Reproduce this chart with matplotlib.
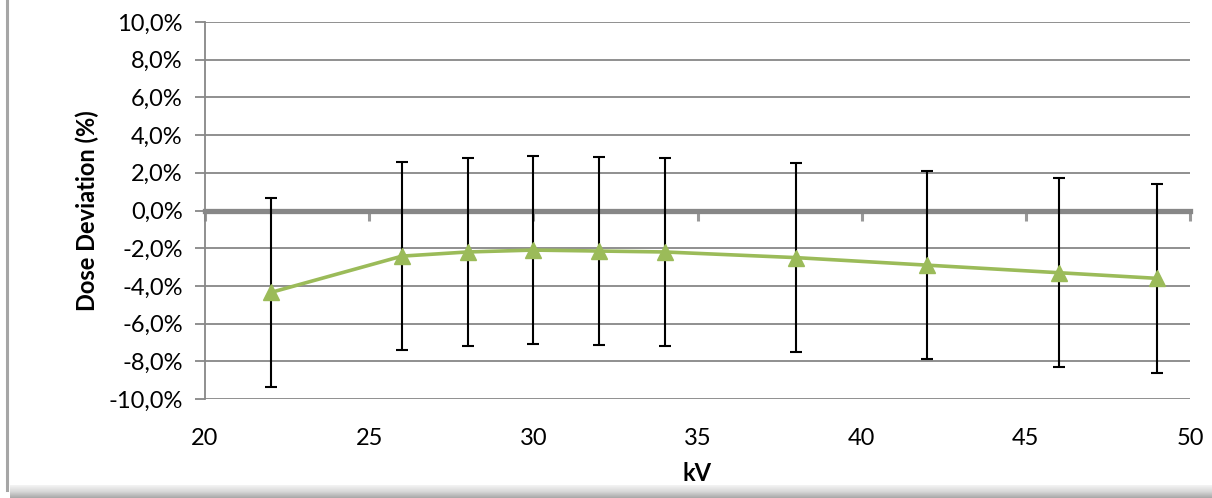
import matplotlib
matplotlib.use("Agg")
import matplotlib.pyplot as plt
import numpy as np
from matplotlib.ticker import FuncFormatter
from matplotlib.lines import Line2D

plt.rcParams['font.family'] = ['Lato', 'DejaVu Sans']

kv = [22, 26, 28, 30, 32, 34, 38, 42, 46, 49]
deviation = [-4.35, -2.42, -2.2, -2.1, -2.15, -2.2, -2.5, -2.9, -3.3, -3.6]
error = [5.0, 5.0, 5.0, 5.0, 5.0, 5.0, 5.0, 5.0, 5.0, 5.0]
xticks = [20, 25, 30, 35, 40, 45, 50]
yticks = [-10, -8, -6, -4, -2, 0, 2, 4, 6, 8, 10]

W, H = 1212, 498
fig = plt.figure(figsize=(W / 100, H / 100), dpi=100)
ax = fig.add_axes([205 / W, 1 - 399 / H, (1190 - 205) / W, (399 - 22) / H])

grid_c = '#878787'
green = '#9BBB59'
fs = 17

ax.set_xlim(20, 50)
ax.set_ylim(-10, 10)
ax.set_xticks(xticks)
ax.set_yticks(yticks)
ax.yaxis.set_major_formatter(FuncFormatter(lambda v, p: f"{v:.1f}%".replace('.', ',')))

for v in yticks:
    if v != 0:
        ax.axhline(v, color=grid_c, lw=1.3, zorder=1)

ax.errorbar(kv, deviation, yerr=error, fmt='none', ecolor='black', elinewidth=1.5,
            capsize=4.5, capthick=1.5, zorder=3)
ax.plot(kv, deviation, color=green, lw=2.6, marker='^', markersize=11,
        markerfacecolor=green, markeredgecolor=green, zorder=4)

for s in ['right', 'bottom']:
    ax.spines[s].set_visible(False)
ax.spines['left'].set_color(grid_c)
ax.spines['left'].set_linewidth(1.3)
ax.spines['top'].set_position(('data', 0))
ax.spines['top'].set_color(grid_c)
ax.spines['top'].set_linewidth(3.8)
ax.spines['top'].set_zorder(2)

ax.tick_params(axis='x', bottom=False, top=True, labeltop=False, labelbottom=True,
               direction='in', length=7, width=2.2, color='#999999', pad=21,
               labelsize=fs)
ax.tick_params(axis='y', direction='out', length=7, width=1.3, color=grid_c,
               labelsize=fs, pad=9)

ax.set_xlabel('kV', fontsize=fs, fontweight='bold', labelpad=9)
ax.set_ylabel('Dose Deviation (%)', fontsize=fs, fontweight='bold', labelpad=7)

# chart border: left line and bottom shadow
fig.add_artist(Line2D([6.5 / W, 6.5 / W], [1 - 490 / H, 1], transform=fig.transFigure,
                      color='#a6a6a6', lw=2.2))
sh = fig.add_axes([10 / W, 0, 1 - 10 / W, 13 / H])
grad = np.linspace(0, 1, 50).reshape(-1, 1)
sh.imshow(grad, aspect='auto', cmap=matplotlib.colors.LinearSegmentedColormap.from_list(
    'sh', ['#a8a8a8', '#d8d8d8', '#f4f4f4']), extent=[0, 1, 0, 1], origin='lower')
sh.axis('off')

fig.savefig('out.png', dpi=100)
